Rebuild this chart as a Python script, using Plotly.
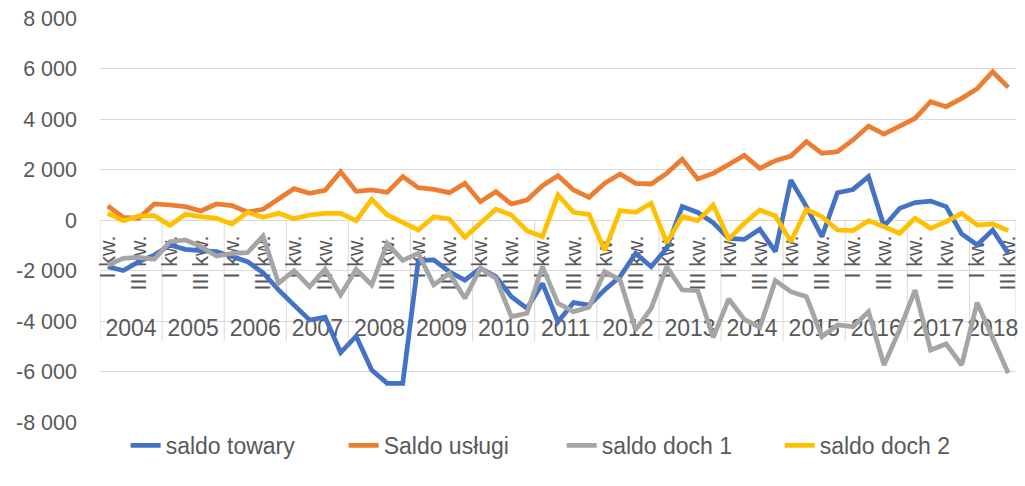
import plotly.graph_objects as go

years = [str(y) for y in range(2004, 2019)]
quarters = ["I kw.", "II kw.", "III kw.", "IV kw."]

saldo_towary = [-1850, -2000, -1650, -1390, -990, -1160, -1215, -1255, -1450, -1650,
                -2090, -2770, -3370, -3960, -3850, -5250, -4600, -5940, -6470, -6470,
                -1610, -1580, -2050, -2380, -1910, -2240, -3040, -3500, -2510, -4030,
                -3270, -3370, -2770, -2240, -1320, -1850, -1120, 530, 300, -110,
                -730, -770, -370, -1250, 1580, 530, -660, 1080, 1210, 1720,
                -250, 460, 690, 750, 530, -550, -990, -400, -1320]
saldo_uslugi = [554, 106, 66, 634, 594, 528, 356, 634, 568, 317,
                422, 831, 1241, 1056, 1175, 1914, 1135, 1188, 1096, 1716,
                1280, 1214, 1082, 1452, 726, 1122, 634, 792, 1360, 1756,
                1188, 898, 1452, 1822, 1452, 1426, 1848, 2403, 1624, 1848,
                2205, 2561, 2046, 2350, 2534, 3101, 2640, 2706, 3168, 3722,
                3406, 3722, 4027, 4685, 4487, 4817, 5200, 5873, 5255]
saldo_doch1 = [-1782, -1518, -1478, -1558, -858, -792, -1056, -1426, -1320, -1294,
               -634, -2508, -2006, -2640, -1954, -2970, -1954, -2574, -924, -1600,
               -1320, -2574, -2112, -3102, -1914, -2310, -3828, -3696, -1848, -3300,
               -3630, -3458, -2046, -2376, -4356, -3498, -1848, -2772, -2800, -4646,
               -3128, -3934, -4250, -2402, -2838, -3036, -4620, -4158, -4224, -3630,
               -5742, -4350, -2772, -5148, -4910, -5742, -3274, -4620, -6072]
saldo_doch2 = [264, -26, 158, 172, -211, 224, 132, 66, -158, 304,
               106, 264, 53, 198, 264, 264, -26, 818, 198, -106,
               -396, 132, 40, -686, -106, 422, 198, -422, -660, 990,
               304, 224, -1200, 370, 304, 660, -900, 132, -26, 594,
               -750, -132, 396, 158, -850, 422, 132, -396, -422, -26,
               -264, -528, 66, -330, -66, 264, -198, -158, -422]

y_ticks = list(range(-8000, 8001, 2000))
y_ticktext = [f"{v:,}".replace(",", " ") for v in y_ticks]

n = len(saldo_towary)
idx = list(range(n))
q_of = [i % 4 for i in idx]
year_of = [years[i // 4] for i in idx]

# quarter tick labels: only every other quarter is labelled (I and III)
q_tickvals = [i for i in idx if q_of[i] % 2 == 0]
q_ticktext = [quarters[q_of[i]] for i in q_tickvals]

# year labels at the centre of each year's quarters, dividers at boundaries
year_centres, year_starts = [], []
for y in years:
    members = [i for i in idx if year_of[i] == y]
    year_centres.append(sum(members) / len(members))
    year_starts.append(members[0] - 0.5)
boundaries = year_starts + [n - 0.5]

series = [
    ("saldo towary", saldo_towary, "#4472C4"),
    ("Saldo usługi", saldo_uslugi, "#ED7D31"),
    ("saldo doch 1", saldo_doch1, "#A5A5A5"),
    ("saldo doch 2", saldo_doch2, "#FFC000"),
]

FONT = "Liberation Sans"
TXT = "#595959"
GRID = "#d9d9d9"

fig = go.Figure()
# empty helper trace so that the second (year-level) category axis is drawn
fig.add_trace(go.Scatter(x=year_centres, y=[None] * len(year_centres), xaxis="x2",
                         mode="lines", showlegend=False, hoverinfo="skip"))
for name, vals, col in series:
    fig.add_trace(go.Scatter(x=idx, y=vals, name=name, mode="lines",
                             line=dict(color=col, width=4.75)))

shapes = [dict(type="line", xref="x", yref="paper", x0=b, x1=b, y0=0.5, y1=0.2,
               line=dict(color=GRID, width=1), layer="below") for b in boundaries]

xr = [-0.5, n - 0.5]
fig.update_layout(
    width=1025, height=486,
    margin=dict(l=100, r=9, t=18, b=64, autoexpand=False),
    paper_bgcolor="white", plot_bgcolor="white",
    font=dict(family=FONT, size=21.5, color=TXT),
    showlegend=True,
    legend=dict(orientation="h", x=0.028, xanchor="left", y=-0.005, yanchor="top",
                font=dict(family=FONT, size=23, color=TXT),
                entrywidth=173, itemwidth=30, bgcolor="rgba(0,0,0,0)"),
    shapes=shapes,
    xaxis=dict(range=xr, anchor="free", position=0.5,
               showline=True, linecolor=GRID, linewidth=1,
               showgrid=False, zeroline=False, tickangle=-90, ticks="",
               tickvals=q_tickvals, ticktext=q_ticktext, ticklabelstandoff=6,
               tickfont=dict(family=FONT, size=21.5, color=TXT),
               layer="below traces"),
    xaxis2=dict(range=xr, overlaying="x", anchor="free", position=0.272, side="bottom",
                showline=False, showgrid=False, zeroline=False, ticks="",
                tickvals=year_centres, ticktext=years,
                tickfont=dict(family=FONT, size=23, color=TXT),
                layer="below traces"),
    yaxis=dict(range=[-8000, 8000], tickvals=y_ticks, ticktext=y_ticktext,
               showgrid=True, gridcolor=GRID, gridwidth=1,
               zeroline=False, showline=False, ticks="",
               ticklabelstandoff=22,
               tickfont=dict(family=FONT, size=21.5, color=TXT)),
)

fig.write_html("out.html", config={"displayModeBar": False},
               post_script="document.body.style.margin='0';")
